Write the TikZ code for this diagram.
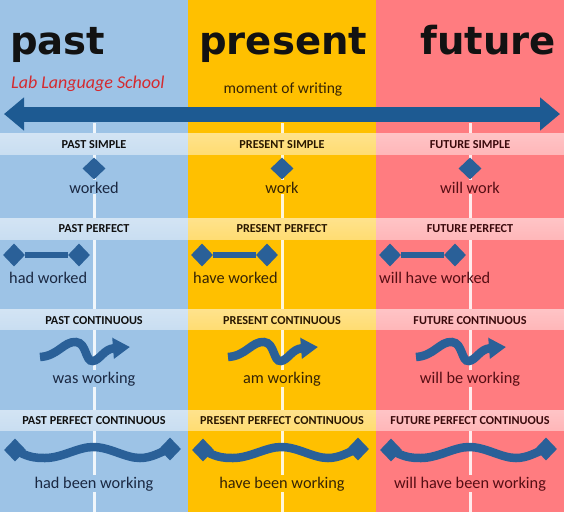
\documentclass[tikz,border=0pt]{standalone}
\usepackage{fontspec}
\setmainfont{Carlito}
\newfontfamily\titlefont{DejaVu Sans}
\usetikzlibrary{shapes.geometric,arrows.meta}
\definecolor{cpast}{HTML}{9DC3E6}
\definecolor{cpres}{HTML}{FFC000}
\definecolor{cfut}{HTML}{FF7C80}
\definecolor{tpast}{HTML}{1A2842}
\definecolor{tpres}{HTML}{362405}
\definecolor{tfut}{HTML}{560E14}
\definecolor{hpast}{HTML}{101010}
\definecolor{hpres}{HTML}{2A1800}
\definecolor{hfut}{HTML}{3A0A0C}
\definecolor{shapeblue}{HTML}{2A6098}
\definecolor{arrowblue}{HTML}{1D5A92}
\definecolor{labred}{HTML}{D42A2F}
\tikzset{
  title/.style={font=\titlefont\bfseries\fontsize{38.6}{40}\selectfont, text=black!93, inner sep=0pt},
  bandlabel/.style={font=\bfseries\fontsize{12.2}{12}\selectfont, inner sep=0pt, anchor=base},
  verb/.style={font=\fontsize{16.3}{16}\selectfont, inner sep=1.2pt, anchor=base},
  dia/.style={diamond, fill=shapeblue, inner sep=0pt, minimum width=22pt, minimum height=23pt},
  smalldia/.style={diamond, fill=shapeblue, inner sep=0pt, minimum width=23pt, minimum height=22pt},
  bar/.style={draw=shapeblue, line width=6.5pt},
  wave/.style={draw=shapeblue, line width=8.5pt},
  guide/.style={draw=white, line width=3pt, opacity=0.85},
}
\begin{document}
\begin{tikzpicture}[x=1pt,y=-1pt]
\useasboundingbox (0,0) rectangle (564,512);
% column backgrounds
\fill[cpast] (0,0) rectangle (188,512);
\fill[cpres] (188,0) rectangle (376,512);
\fill[cfut] (376,0) rectangle (564,512);

% titles
\node[title, anchor=base west] (tpastn) at (10,54) {past};
\node[title, anchor=base west] (tpresn) at (199,54) {present};
\node[title, anchor=base east] (tfutn) at (556,54) {future};
\node[anchor=base west, inner sep=0pt, text=labred, font=\itshape\fontsize{18}{18}\selectfont] (lab) at (11,88) {Lab Language School};
\node[anchor=base, inner sep=0pt, text=tpres, font=\fontsize{15.6}{15.6}\selectfont] (mow) at (283,93) {moment of writing};

% timeline
\coordinate (tl) at (4,114);
\coordinate (tr) at (560,114);
\draw[arrowblue, line width=15pt, {Triangle[width=32pt,length=20pt]}-{Triangle[width=32pt,length=20pt]}] (tl) -- (tr);

\foreach \i/\cx/\px/\bg/\tc/\hc/\nm/\vA/\vB/\vC/\vD in {
  1/0/9/cpast/tpast/hpast/PAST/worked/had worked/was working/had been working,
  2/188/5/cpres/tpres/hpres/PRESENT/work/have worked/am working/have been working,
  3/376/3/cfut/tfut/hfut/FUTURE/will work/will have worked/will be working/will have been working}{
  \begin{scope}[shift={(\cx,0)}]
    % guide line
    \coordinate (g\i a) at (94,123);
    \coordinate (g\i b) at (94,512);
    \draw[guide] (g\i a) -- (g\i b);
    % bands
    \foreach \ya/\yb in {133/154, 218/239, 309/329, 410/430}{
      \shade[top color=\bg!45!white, middle color=white, bottom color=\bg!55!white] (0,\ya) rectangle (188,\yb);
    }
    \node[bandlabel, text=\hc] (b\i s) at (94,148.5) {\nm\ SIMPLE};
    \node[bandlabel, text=\hc] (b\i p) at (94,232.7) {\nm\ PERFECT};
    \node[bandlabel, text=\hc] (b\i c) at (94,324) {\nm\ CONTINUOUS};
    \node[bandlabel, text=\hc] (b\i pc) at (94,424) {\nm\ PERFECT CONTINUOUS};
    % simple
    \node[smalldia] (s\i) at (94,168.5) {};
    \node[verb, text=\tc, fill=\bg] (vs\i) at (94,193) {\vA};
    % perfect
    \node[dia] (p\i a) at (14,255) {};
    \node[dia] (p\i b) at (79,255) {};
    \draw[bar] (p\i a) -- (p\i b);
    \node[verb, text=\tc, anchor=base west, inner sep=0pt] (vp\i) at (\px,283) {\vB};
    % continuous
    \coordinate (c\i a) at (40,357);
    \coordinate (c\i b) at (130,347);
    \draw[wave, -{Triangle[width=20pt,length=17pt]}] (c\i a) .. controls (58,356) and (64,341) .. (76,342)
       .. controls (87,343) and (85,362) .. (93,361) .. controls (100,360) and (104,349) .. (c\i b);
    \node[verb, text=\tc, fill=\bg] (vc\i) at (94,383) {\vC};
    % perfect continuous
    \node[dia] (q\i a) at (15,450) {};
    \node[dia] (q\i b) at (170,449) {};
    \draw[wave] (q\i a.center) .. controls (28,457) and (34,458) .. (45,458)
       .. controls (62,458) and (78,447) .. (93,447)
       .. controls (110,447) and (125,458) .. (140,458)
       .. controls (152,458) and (160,452) .. (q\i b.center);
    \node[verb, text=\tc, fill=\bg] (vq\i) at (94,488) {\vD};
  \end{scope}
}
\end{tikzpicture}
\end{document}
